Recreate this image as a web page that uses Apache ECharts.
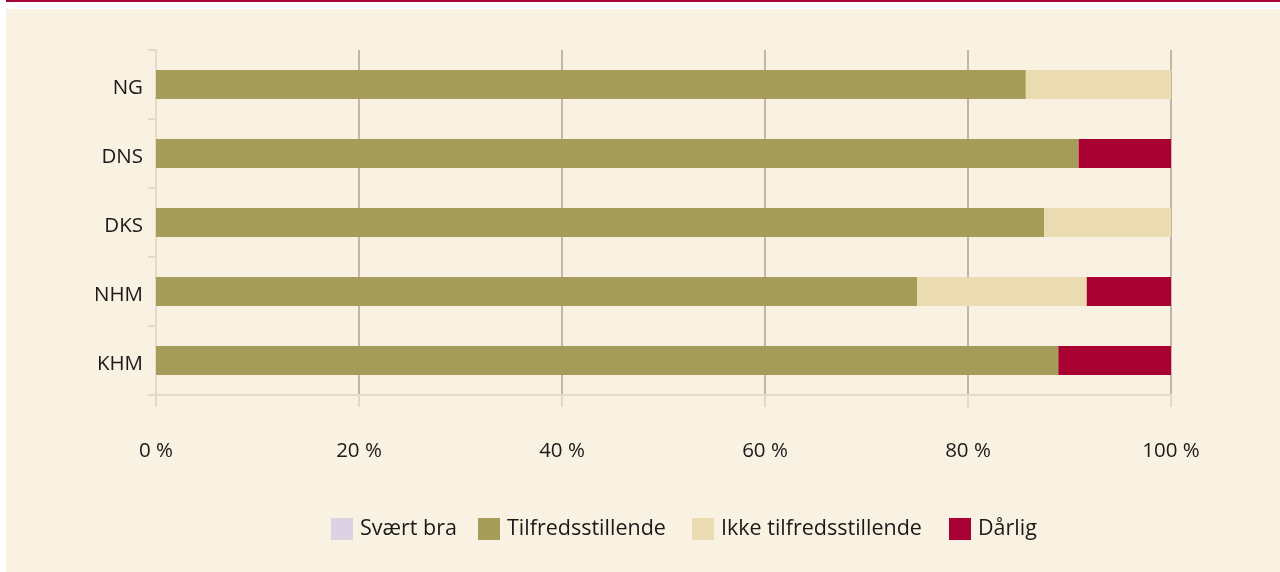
<!DOCTYPE html>
<html><head><meta charset="utf-8">
<script src="https://cdn.jsdelivr.net/npm/echarts@6/dist/echarts.min.js"></script>
<style>
html,body{margin:0;padding:0;background:#fff;width:1280px;height:572px;overflow:hidden;position:relative}
#topline{position:absolute;left:6px;top:0;width:1274px;height:2px;background:#a8003a}
#panel{position:absolute;left:6px;top:9px;width:1274px;height:563px;background:#f9f1e1}
#chart{position:absolute;left:0;top:0;width:1280px;height:572px}
</style></head><body>
<div id="topline"></div><div id="panel"></div><div id="chart"></div>
<script>
const categories = ['KHM','NHM','DKS','DNS','NG'];
const seriesNames = ['Svært bra','Tilfredsstillende','Ikke tilfredsstillende','Dårlig'];
const svaertBra = [0,0,0,0,0];
const tilfreds = [88.9,75.0,87.5,90.9,85.7];
const ikkeTilfreds = [0,16.7,12.5,0,14.3];
const darlig = [11.1,8.3,0,9.1,0];
const xTicks = [0,20,40,60,80,100];
const colors = ['#dbd3e3','#a69c5a','#ebdbb0','#a80032'];
const values = [svaertBra,tilfreds,ikkeTilfreds,darlig];
const legendLeft = [331,478,692,949];
const font = 'Open Sans, Noto Sans, sans-serif';
const chart = echarts.init(document.getElementById('chart'));
chart.setOption({
  backgroundColor:'transparent',
  animation:false,
  grid:{left:156,right:109,top:50,bottom:177,containLabel:false},
  legend:seriesNames.map((n,i)=>({left:legendLeft[i],top:518,padding:0,itemWidth:22,itemHeight:22,
    icon:'rect',
    textStyle:{fontFamily:font,fontSize:21.5,color:'#1a1a1a',padding:[0,0,0,2]},
    data:[n]})),
  xAxis:{type:'value',min:0,max:100,interval:20,
    axisLine:{show:true,lineStyle:{color:'#e4dac8',width:2}},
    axisTick:{show:true,length:12,lineStyle:{color:'#e4dac8',width:2}},
    splitLine:{show:true,lineStyle:{color:'#b3a08f',width:1.5}},
    axisLabel:{margin:46,fontFamily:font,fontSize:20.5,color:'#1a1a1a',
      formatter:v=>xTicks.includes(v)?v+' %':''}},
  yAxis:{type:'category',data:categories,
    axisLine:{show:true,lineStyle:{color:'#e4dac8',width:2}},
    axisTick:{show:true,length:8,alignWithLabel:false,lineStyle:{color:'#e4dac8',width:2}},
    axisLabel:{margin:13,fontFamily:font,fontSize:20.5,color:'#1a1a1a',verticalAlign:'top',lineHeight:8}},
  series:seriesNames.map((n,i)=>({name:n,type:'bar',stack:'s',barWidth:29,
    itemStyle:{color:colors[i]},data:values[i]}))
});
</script></body></html>
